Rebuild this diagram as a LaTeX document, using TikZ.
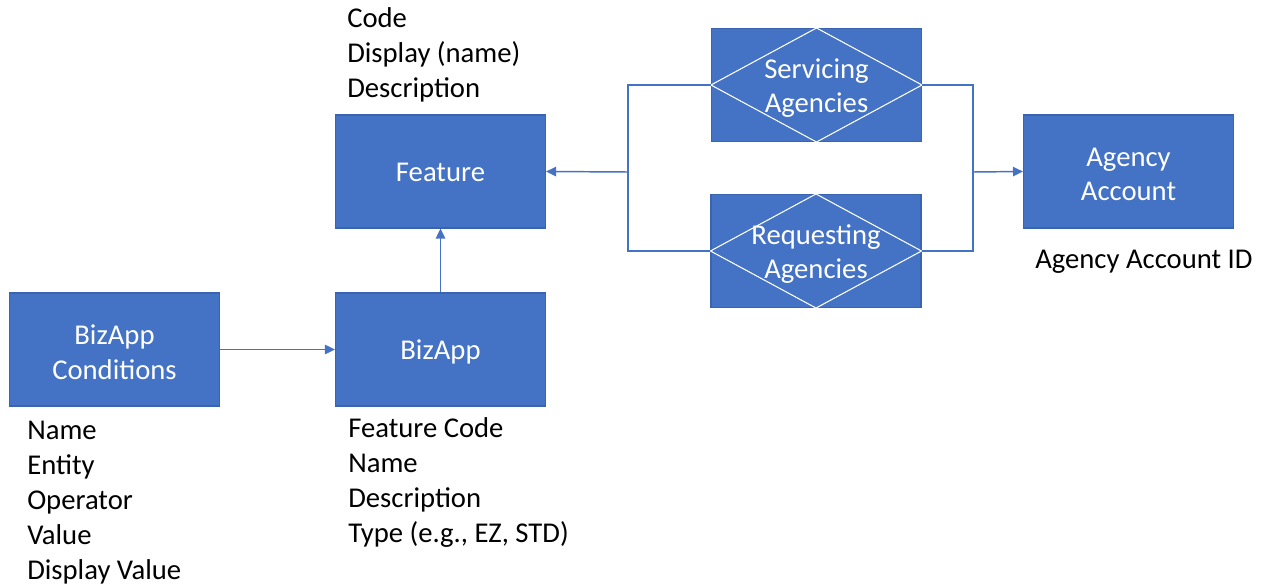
\documentclass[tikz,border=0pt]{standalone}
\usepackage{fontspec}
\setmainfont{Carlito}
\usetikzlibrary{arrows.meta}
\definecolor{obl}{HTML}{4472C4}
\definecolor{obd}{HTML}{3A64B0}
\begin{document}
\begin{tikzpicture}[x=0.75pt,y=-0.75pt,
  box/.style={rectangle, fill=obl, draw=obd, line width=0.8pt, minimum width=157.5pt, minimum height=84.75pt, inner sep=0pt},
  btxt/.style={inner sep=0pt, text=white, align=center, font=\fontsize{21.5}{26}\selectfont},
  lbl/.style={inner sep=0pt, anchor=base west, font=\fontsize{21.5}{26.25}\selectfont},
  conn/.style={draw=obl, line width=1.1pt},
  arr/.style={conn, -{Triangle[width=7pt,length=7.5pt]}},
  dia/.style={draw=white, line width=0.8pt}]
\useasboundingbox (0,0) rectangle (1263,585);

% boxes
\node[box] (feat) at (440.5,171.5) {};
\node[box] (serv) at (816.5,85) {};
\node[box] (req) at (816,251) {};
\node[box] (acct) at (1128.5,171.5) {};
\node[box] (cond) at (114.5,349.5) {};
\node[box] (biz) at (440.5,349.5) {};

% diamonds inside relationship boxes
\draw[dia] (serv.north) -- (serv.east) -- (serv.south) -- (serv.west) -- cycle;
\draw[dia] (req.north) -- (req.east) -- (req.south) -- (req.west) -- cycle;

% box texts
\node[btxt] (featt) at ([yshift=-1pt]feat.center) {Feature};
\node[btxt] (servt) at ([yshift=-2.4pt]serv.center) {Servicing\\Agencies};
\node[btxt] (reqt) at ([yshift=-2.2pt]req.center) {Requesting\\Agencies};
\node[btxt] (acctt) at ([yshift=-2.2pt]acct.center) {Agency\\Account};
\node[btxt] (condt) at ([yshift=-2pt]cond.center) {BizApp\\Conditions};
\node[btxt] (bizt) at ([yshift=-2pt]biz.center) {BizApp};

% attribute texts
\node[lbl] (f1) at (347,28) {Code};
\node[lbl] (f2) at (347,63) {Display (name)};
\node[lbl] (f3) at (347,98) {Description};

\node[lbl] (b1) at (348,437) {Feature Code};
\node[lbl] (b2) at (348,472) {Name};
\node[lbl] (b3) at (348,507) {Description};
\node[lbl] (b4) at (348,542) {Type (e.g., EZ, STD)};

\node[lbl] (c1) at (27,439) {Name};
\node[lbl] (c2) at (27,474) {Entity};
\node[lbl] (c3) at (27,509) {Operator};
\node[lbl] (c4) at (27,544) {Value};
\node[lbl] (c5) at (27,579) {Display Value};

\node[lbl] (a1) at (1035,268) {Agency Account ID};

% connectors
\coordinate (jl) at (628,172);
\coordinate (jr) at (973,172);
\draw[conn] (serv.west) -| (jl) |- (req.west);
\draw[arr] (jl) -- (feat.east);
\draw[conn] (serv.east) -| (jr) |- (req.east);
\draw[arr] (jr) -- (acct.west);
\draw[arr] (cond.east) -- (biz.west);
\draw[arr] (biz.north) -- (feat.south);
\end{tikzpicture}
\end{document}
